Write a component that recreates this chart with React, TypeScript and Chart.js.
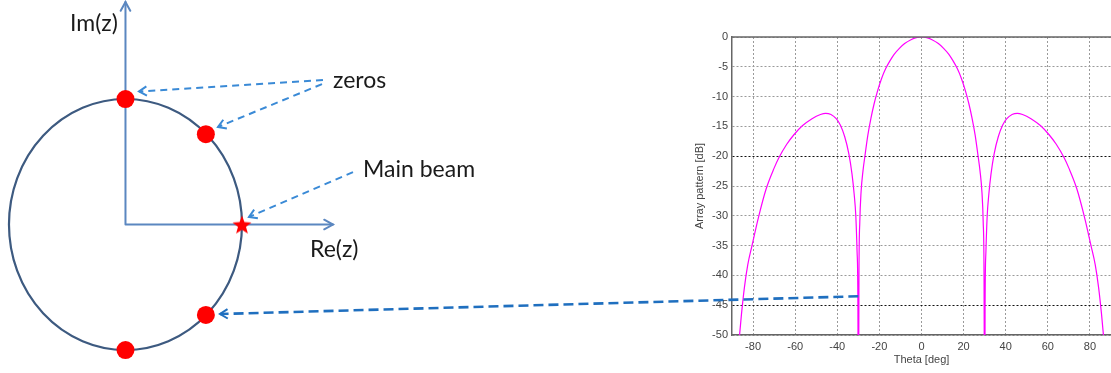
import React, { useEffect, useRef } from "react";
import { Chart, registerables } from "chart.js";

Chart.register(...registerables);

// ---- Right chart: array pattern ----
const THETA_DEG = [
  -89, -88, -87, -86.4, -85.5, -84.1, -82.5, -80.5, -77.6, -73.8, -70, -67.8, -64, -60.6, -56.6, -52, -48, -45.5,
  -43, -40.5, -38.5, -36.5, -34.5, -33, -32, -31.2, -30.6, -30.2, -30,
  -29.7, -29.3, -28.7, -27.8, -26.8, -25.5, -24, -22.5, -21, -19, -17, -15, -13, -10.5, -8, -5, -2.5, 0,
  2.5, 5, 8, 10.5, 13, 15, 17, 19, 21, 22.5, 24, 25.5, 26.8, 27.8, 28.7, 29.3, 29.7,
  30, 30.2, 30.6, 31.2, 32, 33, 34.5, 36.5, 38.5, 40.5, 43,
  45.5, 48, 52, 56.6, 60.6, 64, 67.8, 70, 73.8, 77.6, 80.5, 82.5, 84.1, 85.5, 86.4, 87, 88, 89,
];
const PATTERN_DB = [
  -68, -58, -52.5, -50, -46.5, -42, -38.2, -35, -30.5, -25.5, -22, -20.3, -18, -16.4, -14.9, -13.7, -13.0, -12.8,
  -13.0, -13.7, -14.8, -16.7, -19.6, -23, -26.3, -30, -36, -45, -75,
  -40, -31, -26, -22.5, -19.8, -16.5, -13.6, -11.2, -9.2, -7.0, -5.3, -4.0, -2.9, -1.9, -1.1, -0.45, -0.1, 0,
  -0.1, -0.45, -1.1, -1.9, -2.9, -4.0, -5.3, -7.0, -9.2, -11.2, -13.6, -16.5, -19.8, -22.5, -26, -31, -40,
  -75, -45, -36, -30, -26.3, -23, -19.6, -16.7, -14.8, -13.7, -13.0,
  -12.8, -13.0, -13.7, -14.9, -16.4, -18, -20.3, -22, -25.5, -30.5, -35, -38.2, -42, -46.5, -50, -52.5, -58, -68,
];
const X_TICKS = [-80, -60, -40, -20, 0, 20, 40, 60, 80];
const Y_TICKS = [0, -5, -10, -15, -20, -25, -30, -35, -40, -45, -50];
const X_RANGE = [-90, 90];
const Y_RANGE = [-50, 0];
const DARK_GRID_DB = [-20, -45];
const X_TITLE = "Theta [deg]";
const Y_TITLE = "Array pattern [dB]";

// ---- Left diagram: complex plane (Re, Im) ----
const ZERO_RE = [0, 0.69, 0.69, 0];
const ZERO_IM = [1, 0.72, -0.72, -1];
const BEAM_RE = [1];
const BEAM_IM = [0];
const PLANE_RE_RANGE = [-1.077, 8.459];
const PLANE_IM_RANGE = [-1.183, 1.789];
const AXIS_RE_END = 1.781;
const AXIS_IM_END = 1.773;
const LABEL_TEXT = ["Im(z)", "zeros", "Main beam", "Re(z)"];
const LABEL_RE = [-0.476, 1.781, 2.039, 1.584];
const LABEL_IM = [1.542, 1.088, 0.378, -0.259];
// dashed arrows: start (Re, Im) -> end (Re, Im)
const ARROW_FROM_RE = [1.695, 1.687, 1.953];
const ARROW_FROM_IM = [1.151, 1.119, 0.418];
const ARROW_TO_RE = [0.116, 0.794, 1.06];
const ARROW_TO_IM = [1.06, 0.777, 0.06];
// long arrow: from a point of the pattern chart (theta, dB) to the lower zero
const LINK_THETA = -30;
const LINK_DB = -43.5;
const LINK_TO_RE = 0.811;
const LINK_TO_IM = -0.713;

const W = 1111;
const H = 373;

function makeStar(size: number, color: string) {
  const c = document.createElement("canvas");
  c.width = size;
  c.height = size;
  const g = c.getContext("2d")!;
  const cx = size / 2;
  const cy = size / 2 + 1;
  const R = size / 2;
  const r = R * 0.42;
  g.beginPath();
  for (let i = 0; i < 10; i++) {
    const rad = i % 2 === 0 ? R : r;
    const a = -Math.PI / 2 + (i * Math.PI) / 5;
    const px = cx + rad * Math.cos(a);
    const py = cy + rad * Math.sin(a);
    if (i === 0) g.moveTo(px, py);
    else g.lineTo(px, py);
  }
  g.closePath();
  g.fillStyle = color;
  g.fill();
  return c;
}

function arrowHead(ctx: CanvasRenderingContext2D, sx: number, sy: number, tx: number, ty: number, len: number, spread: number) {
  const a = Math.atan2(ty - sy, tx - sx);
  ctx.save();
  ctx.setLineDash([]);
  ctx.beginPath();
  ctx.moveTo(tx - len * Math.cos(a - spread), ty - len * Math.sin(a - spread));
  ctx.lineTo(tx, ty);
  ctx.lineTo(tx - len * Math.cos(a + spread), ty - len * Math.sin(a + spread));
  ctx.stroke();
  ctx.restore();
}

export default function App() {
  const rightRef = useRef<HTMLCanvasElement>(null);
  const leftRef = useRef<HTMLCanvasElement>(null);

  useEffect(() => {
    const font = { family: "'Liberation Sans', Arial, sans-serif", size: 11 };
    const boxPlugin = {
      id: "boxTop",
      afterDraw(chart: any) {
        const { ctx, chartArea } = chart;
        ctx.save();
        ctx.strokeStyle = "#666";
        ctx.lineWidth = 1.5;
        ctx.beginPath();
        ctx.moveTo(chartArea.left, chartArea.top);
        ctx.lineTo(chartArea.right, chartArea.top);
        ctx.stroke();
        ctx.restore();
      },
    };

    const right = new Chart(rightRef.current!, {
      type: "line",
      data: {
        datasets: [
          {
            data: THETA_DEG.map((t, i) => ({ x: t, y: PATTERN_DB[i] })),
            borderColor: "#ff00ff",
            borderWidth: 1.2,
            pointRadius: 0,
            cubicInterpolationMode: "monotone",
            fill: false,
          },
        ],
      },
      options: {
        animation: false,
        responsive: false,
        maintainAspectRatio: false,
        events: [],
        layout: { autoPadding: false, padding: { left: 690, top: 37, right: 0, bottom: 0 } },
        plugins: { legend: { display: false }, tooltip: { enabled: false } },
        scales: {
          x: {
            type: "linear",
            min: X_RANGE[0],
            max: X_RANGE[1],
            afterBuildTicks: (s: any) => {
              s.ticks = X_TICKS.map((v) => ({ value: v }));
            },
            afterFit: (s: any) => {
              s.height = 38;
            },
            grid: { color: "#9a9a9a", lineWidth: 1, drawTicks: false },
            border: { dash: [2, 2], color: "#666", width: 1.5 },
            ticks: { padding: 5, font, color: "#444", maxRotation: 0, autoSkip: false },
            title: { display: true, text: X_TITLE, font, color: "#444", padding: { top: 2, bottom: 6 } },
          },
          y: {
            type: "linear",
            min: Y_RANGE[0],
            max: Y_RANGE[1],
            afterBuildTicks: (s: any) => {
              s.ticks = Y_TICKS.map((v) => ({ value: v }));
            },
            afterFit: (s: any) => {
              s.width = 42;
            },
            grid: {
              color: (c: any) => (c.tick && DARK_GRID_DB.includes(c.tick.value) ? "#111" : "#9a9a9a"),
              lineWidth: 1,
              drawTicks: false,
            },
            border: { dash: [2, 2], color: "#666", width: 1.5 },
            ticks: { padding: 4, font, color: "#444", autoSkip: false },
            title: { display: true, text: Y_TITLE, font, color: "#444", padding: { top: 3, bottom: 2 } },
          },
        },
      },
      plugins: [boxPlugin],
    } as any);

    const star = makeStar(20, "#ff0000");

    const diagramPlugin = {
      id: "diagram",
      beforeDatasetsDraw(chart: any) {
        const { ctx } = chart;
        const x = chart.scales.x;
        const y = chart.scales.y;
        const cx = x.getPixelForValue(0);
        const cy = y.getPixelForValue(0);
        const rx = x.getPixelForValue(1) - cx;
        const ry = cy - y.getPixelForValue(1);
        ctx.save();
        // axes
        ctx.strokeStyle = "#5b87c0";
        ctx.lineWidth = 2;
        ctx.lineCap = "round";
        const imTop = y.getPixelForValue(AXIS_IM_END);
        const reEnd = x.getPixelForValue(AXIS_RE_END);
        ctx.beginPath();
        ctx.moveTo(cx, cy);
        ctx.lineTo(cx, imTop);
        ctx.moveTo(cx, cy);
        ctx.lineTo(reEnd, cy);
        ctx.stroke();
        arrowHead(ctx, cx, cy, cx, imTop, 10, 0.5);
        arrowHead(ctx, cx, cy, reEnd, cy, 10, 0.5);
        // unit circle
        ctx.strokeStyle = "#3d5a80";
        ctx.lineWidth = 2.2;
        ctx.beginPath();
        ctx.ellipse(cx, cy, rx, ry, 0, 0, Math.PI * 2);
        ctx.stroke();
        // labels
        ctx.fillStyle = "#1a1a1a";
        ctx.font = "23px Lato, 'Open Sans', sans-serif";
        ctx.textBaseline = "alphabetic";
        ctx.textAlign = "left";
        LABEL_TEXT.forEach((t, i) => {
          ctx.fillText(t, x.getPixelForValue(LABEL_RE[i]), y.getPixelForValue(LABEL_IM[i]));
        });
        ctx.restore();
      },
      afterDatasetsDraw(chart: any) {
        const { ctx } = chart;
        const x = chart.scales.x;
        const y = chart.scales.y;
        ctx.save();
        ctx.lineCap = "butt";
        ctx.strokeStyle = "#3a8ad6";
        ctx.lineWidth = 2;
        ARROW_FROM_RE.forEach((_, i) => {
          const sx = x.getPixelForValue(ARROW_FROM_RE[i]);
          const sy = y.getPixelForValue(ARROW_FROM_IM[i]);
          const tx = x.getPixelForValue(ARROW_TO_RE[i]);
          const ty = y.getPixelForValue(ARROW_TO_IM[i]);
          ctx.setLineDash([7, 5]);
          ctx.beginPath();
          ctx.moveTo(sx, sy);
          ctx.lineTo(tx, ty);
          ctx.stroke();
          arrowHead(ctx, sx, sy, tx, ty, 9, 0.55);
        });
        // long link arrow from the pattern chart
        const sx = right.scales.x.getPixelForValue(LINK_THETA);
        const sy = right.scales.y.getPixelForValue(LINK_DB);
        const tx = x.getPixelForValue(LINK_TO_RE);
        const ty = y.getPixelForValue(LINK_TO_IM);
        ctx.strokeStyle = "#1f6fbf";
        ctx.lineWidth = 2.6;
        ctx.setLineDash([10, 5]);
        ctx.beginPath();
        ctx.moveTo(sx, sy);
        ctx.lineTo(tx, ty);
        ctx.stroke();
        ctx.lineWidth = 2;
        arrowHead(ctx, sx, sy, tx, ty, 9, 0.55);
        ctx.restore();
      },
    };

    const left = new Chart(leftRef.current!, {
      type: "scatter",
      data: {
        datasets: [
          {
            data: ZERO_RE.map((r, i) => ({ x: r, y: ZERO_IM[i] })),
            pointRadius: 9,
            pointBackgroundColor: "#ff0000",
            pointBorderWidth: 0,
            pointBorderColor: "#ff0000",
            clip: false,
          },
          {
            data: BEAM_RE.map((r, i) => ({ x: r, y: BEAM_IM[i] })),
            pointStyle: star,
            pointRadius: 9,
            clip: false,
          },
        ],
      },
      options: {
        animation: false,
        responsive: false,
        maintainAspectRatio: false,
        events: [],
        layout: { autoPadding: false, padding: 0 },
        plugins: { legend: { display: false }, tooltip: { enabled: false } },
        scales: {
          x: { type: "linear", display: false, min: PLANE_RE_RANGE[0], max: PLANE_RE_RANGE[1] },
          y: { type: "linear", display: false, min: PLANE_IM_RANGE[0], max: PLANE_IM_RANGE[1] },
        },
      },
      plugins: [diagramPlugin],
    } as any);

    return () => {
      left.destroy();
      right.destroy();
    };
  }, []);

  const canvasStyle: React.CSSProperties = { position: "absolute", left: 0, top: 0, width: W, height: H };
  return (
    <div style={{ position: "fixed", left: 0, top: 0, width: W, height: H, background: "#fff", overflow: "hidden" }}>
      <canvas ref={rightRef} width={W} height={H} style={canvasStyle} />
      <canvas ref={leftRef} width={W} height={H} style={{ ...canvasStyle, pointerEvents: "none" }} />
    </div>
  );
}
